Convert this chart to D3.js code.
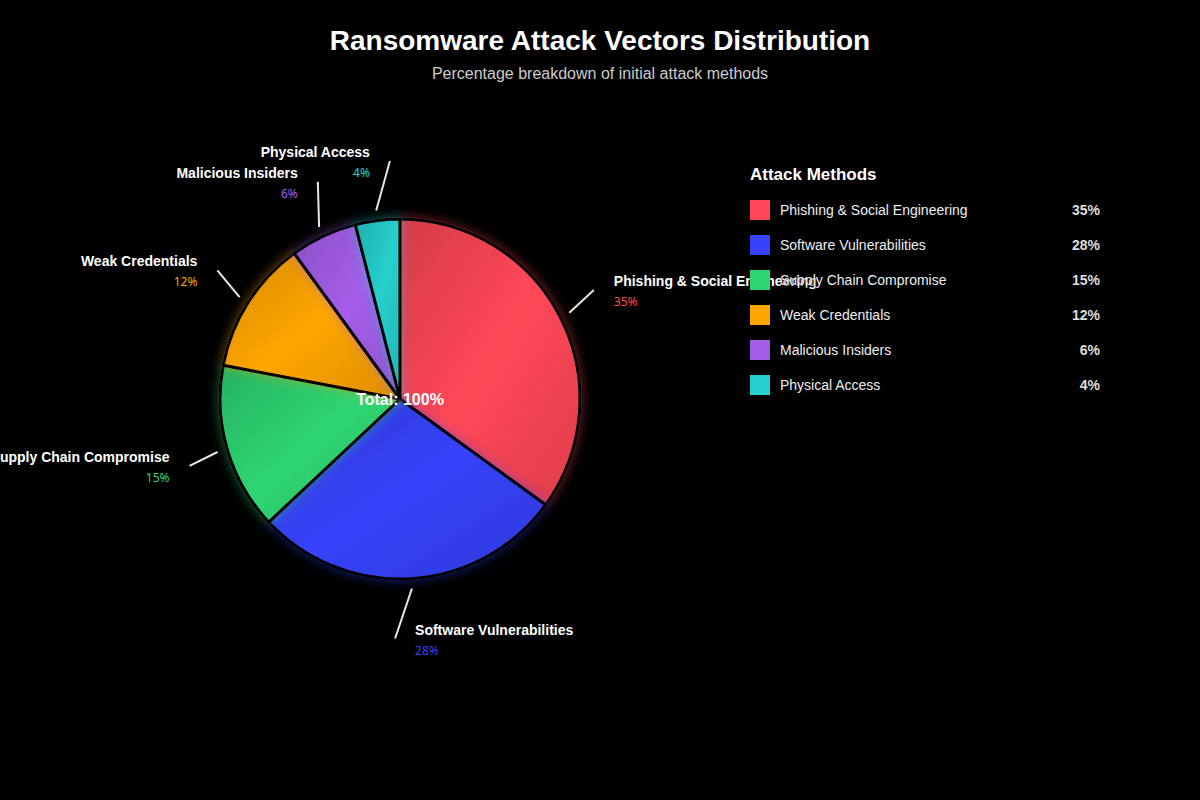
<!DOCTYPE html>
<head>
	<meta charset="utf-8" />
	<style>
		body {
			margin: 0;
			background-color: #000;
			font-family: 'Liberation Sans', Arial, sans-serif;
			overflow: hidden;
		}
		.legend-text {
			text-shadow: 1px 1px 2px #000;
		}
	</style>
</head>

<body>
	<div id="chart-area"></div>

	<script src="https://cdnjs.cloudflare.com/ajax/libs/d3/7.8.5/d3.min.js"></script>
	<script>
		var categories = [
			'Phishing & Social Engineering',
			'Software Vulnerabilities',
			'Supply Chain Compromise',
			'Weak Credentials',
			'Malicious Insiders',
			'Physical Access',
		];
		var values = [35, 28, 15, 12, 6, 4];
		var colors = ['#ff4757', '#3742fa', '#2ed573', '#ffa502', '#a55eea', '#26d0ce'];

		var width = 1200,
			height = 800;
		var cx = 400,
			cy = 399,
			radius = 180;

		var data = categories.map((c, i) => ({ name: c, value: values[i], color: colors[i] }));

		var svg = d3
			.select('#chart-area')
			.append('svg')
			.attr('width', width)
			.attr('height', height);

		var defs = svg.append('defs');

		data.forEach((d, i) => {
			var g = defs
				.append('linearGradient')
				.attr('id', 'grad-' + i)
				.attr('x1', '0%')
				.attr('y1', '0%')
				.attr('x2', '100%')
				.attr('y2', '100%');
			g.append('stop').attr('offset', '0%').attr('stop-color', d3.color(d.color).darker(0.5));
			g.append('stop').attr('offset', '50%').attr('stop-color', d.color);
			g.append('stop').attr('offset', '100%').attr('stop-color', d3.color(d.color).darker(0.4));

			var f = defs
				.append('filter')
				.attr('id', 'glow-' + i)
				.attr('x', '-30%')
				.attr('y', '-30%')
				.attr('width', '160%')
				.attr('height', '160%');
			f.append('feFlood').attr('flood-color', d.color).attr('flood-opacity', 0.45);
			f.append('feComposite').attr('in2', 'SourceAlpha').attr('operator', 'in');
			f.append('feGaussianBlur').attr('stdDeviation', 6).attr('result', 'glow');
			var m = f.append('feMerge');
			m.append('feMergeNode').attr('in', 'glow');
			m.append('feMergeNode').attr('in', 'SourceGraphic');
		});

		// title
		svg.append('text')
			.attr('x', width / 2)
			.attr('y', 50)
			.attr('text-anchor', 'middle')
			.attr('fill', '#fff')
			.style('font-size', '28px')
			.style('font-weight', 'bold')
			.text('Ransomware Attack Vectors Distribution');

		svg.append('text')
			.attr('x', width / 2)
			.attr('y', 79)
			.attr('text-anchor', 'middle')
			.attr('fill', '#ccc')
			.style('font-size', '16px')
			.text('Percentage breakdown of initial attack methods');

		var pie = d3.pie().value(d => d.value).sort(null);
		var arcs = pie(data);

		var arc = d3.arc().innerRadius(0).outerRadius(radius);
		var lineArc = d3.arc().innerRadius(190).outerRadius(190);
		var labelArc = d3.arc().innerRadius(240).outerRadius(240);

		var chart = svg.append('g').attr('transform', `translate(${cx},${cy})`);

		chart
			.selectAll('.slice')
			.data(arcs)
			.join('path')
			.attr('class', 'slice')
			.attr('d', arc)
			.attr('fill', (d, i) => `url(#grad-${i})`)
			.attr('stroke', '#000')
			.attr('stroke-width', 3)
			.attr('filter', (d, i) => `url(#glow-${i})`);

		var midAngle = d => (d.startAngle + d.endAngle) / 2;

		// leader lines
		chart
			.selectAll('.leader')
			.data(arcs)
			.join('polyline')
			.attr('class', 'leader')
			.attr('fill', 'none')
			.attr('stroke', '#fff')
			.attr('stroke-width', 2)
			.attr('opacity', 0.9)
			.attr('points', d => {
				var p1 = lineArc.centroid(d);
				var p2 = labelArc.centroid(d);
				p2[0] += midAngle(d) < Math.PI ? -20 : 20;
				return [p1, p2];
			});

		var labels = chart
			.selectAll('.label')
			.data(arcs)
			.join('g')
			.attr('class', 'label')
			.attr('transform', d => `translate(${labelArc.centroid(d)})`)
			.attr('text-anchor', d => (midAngle(d) < Math.PI ? 'start' : 'end'));

		labels
			.append('text')
			.attr('y', -4)
			.attr('fill', '#fff')
			.style('font-size', '14px')
			.style('font-weight', 'bold')
			.text(d => d.data.name);

		labels
			.append('text')
			.attr('y', 16)
			.attr('fill', d => d.data.color)
			.style('font-family', "'Noto Sans', sans-serif")
			.style('font-size', '12px')
			.text(d => d.data.value + '%');

		chart
			.append('text')
			.attr('y', 6)
			.attr('text-anchor', 'middle')
			.attr('fill', '#fff')
			.style('font-size', '16px')
			.style('font-weight', 'bold')
			.text('Total: 100%');

		// legend
		var legend = svg.append('g').attr('transform', 'translate(750,0)');

		legend
			.append('text')
			.attr('y', 180)
			.attr('fill', '#fff')
			.style('font-size', '17px')
			.style('font-weight', 'bold')
			.text('Attack Methods');

		var items = legend
			.selectAll('.item')
			.data(data)
			.join('g')
			.attr('class', 'item')
			.attr('transform', (d, i) => `translate(0,${200 + i * 35})`);

		items
			.append('rect')
			.attr('width', 20)
			.attr('height', 20)
			.attr('fill', d => d.color);

		items
			.append('text')
			.attr('class', 'legend-text')
			.attr('x', 30)
			.attr('y', 15)
			.attr('fill', '#eee')
			.style('font-size', '14px')
			.text(d => d.name);

		items
			.append('text')
			.attr('x', 350)
			.attr('y', 15)
			.attr('text-anchor', 'end')
			.attr('fill', '#ddd')
			.style('font-size', '14px')
			.style('font-weight', 'bold')
			.text(d => d.value + '%');
	</script>
</body>
